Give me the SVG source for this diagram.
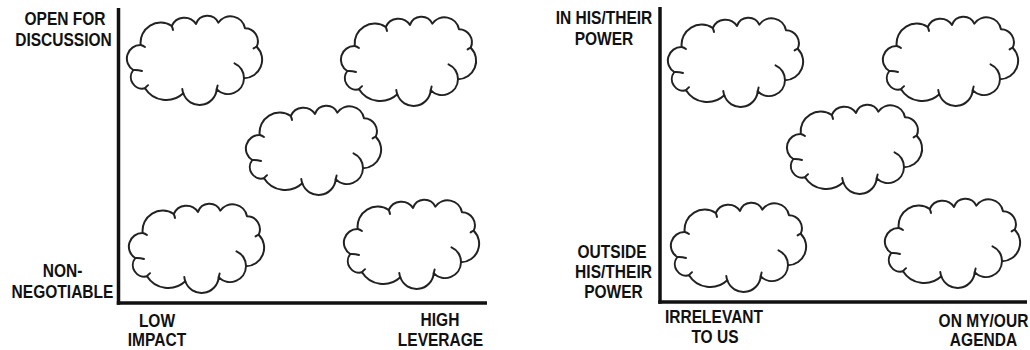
<svg xmlns="http://www.w3.org/2000/svg" xmlns:xlink="http://www.w3.org/1999/xlink" width="1030" height="350" viewBox="0 0 1030 350">
  <style>
    .axis { stroke: #111; stroke-width: 3.5; fill: none; stroke-linecap: butt; }
    .cloud-outline { fill: #fff; stroke: #222; stroke-width: 2; stroke-linejoin: round; }
    .cloud-tick { fill: none; stroke: #222; stroke-width: 2; stroke-linecap: round; }
    .lbl { font-family: "Liberation Sans", Arial, sans-serif; font-weight: bold; font-size: 18.5px; fill: #111; text-anchor: middle; }
  </style>
  <defs>
    <!-- scalloped cloud, local box about 136 x 90 -->
    <g id="cloud">
      <path class="cloud-outline" d="M14.7,30 A20,20 0 0 1 45.7,11 A13.8,13.8 0 0 1 70,9 A12,12 0 0 1 92.3,7.7 A14.8,14.8 0 0 1 119,13.3 A13,13 0 0 1 130.7,31.7 A18.5,18.5 0 0 1 118,63.3 A16,16 0 0 1 90.7,74.3 A17.2,17.2 0 0 1 57.3,78.3 A25,25 0 0 1 19,73.3 A11.5,11.5 0 0 1 7.3,55 A13.5,13.5 0 0 1 14.7,30 Z"/>
      <path class="cloud-tick" d="M108.5,48.3 A16,16 0 0 1 118,63.3"/>
      <path class="cloud-tick" d="M7.3,55 Q11.5,54.6 16,56"/>
      <path class="cloud-tick" d="M14.7,30 Q17,30.6 19,32"/>
      <path class="cloud-tick" d="M45.7,11 Q46.6,12.8 47,15"/>
      <path class="cloud-tick" d="M130.7,31.7 Q129.2,32.2 127.6,33.4"/>
      <path class="cloud-tick" d="M57.3,78.3 Q56.5,76.2 56.3,74"/>
      <path class="cloud-tick" d="M90.7,74.3 Q91.2,72.4 91.6,70.6"/>
      <path class="cloud-tick" d="M19,73.3 Q20.3,71.4 22,70.2"/>
    </g>
  </defs>

  <rect width="1030" height="350" fill="#fff"/>

  <!-- axes of both grids -->
  <g id="connectors">
    <line class="axis" x1="118.5" y1="8" x2="118.5" y2="304.8"/>
    <line class="axis" x1="116.8" y1="303" x2="487" y2="303"/>
    <line class="axis" x1="660" y1="7" x2="660" y2="303.8"/>
    <line class="axis" x1="658.3" y1="302" x2="1027" y2="302"/>
  </g>

  <!-- left grid: axis labels -->
  <g id="label-open-for-discussion">
    <text class="lbl" transform="translate(65,25) scale(0.84,1)">OPEN FOR</text>
    <text class="lbl" transform="translate(63.5,45.5) scale(0.84,1)">DISCUSSION</text>
  </g>
  <g id="label-non-negotiable">
    <text class="lbl" transform="translate(62.5,277) scale(0.84,1)">NON-</text>
    <text class="lbl" transform="translate(62.5,298) scale(0.84,1)">NEGOTIABLE</text>
  </g>
  <g id="label-low-impact">
    <text class="lbl" transform="translate(157,326.5) scale(0.84,1)">LOW</text>
    <text class="lbl" transform="translate(157,346) scale(0.84,1)">IMPACT</text>
  </g>
  <g id="label-high-leverage">
    <text class="lbl" transform="translate(440,325.5) scale(0.84,1)">HIGH</text>
    <text class="lbl" transform="translate(440.5,345.5) scale(0.84,1)">LEVERAGE</text>
  </g>

  <!-- left grid: clouds -->
  <g id="cloud-l1"><use xlink:href="#cloud" href="#cloud" x="126" y="15"/></g>
  <g id="cloud-l2"><use xlink:href="#cloud" href="#cloud" x="340" y="16"/></g>
  <g id="cloud-l3"><use xlink:href="#cloud" href="#cloud" x="245" y="105"/></g>
  <g id="cloud-l4"><use xlink:href="#cloud" href="#cloud" x="128" y="203"/></g>
  <g id="cloud-l5"><use xlink:href="#cloud" href="#cloud" x="343" y="199"/></g>

  <!-- right grid: axis labels -->
  <g id="label-in-power">
    <text class="lbl" transform="translate(604,23.5) scale(0.84,1)">IN HIS/THEIR</text>
    <text class="lbl" transform="translate(604,45) scale(0.84,1)">POWER</text>
  </g>
  <g id="label-outside-power">
    <text class="lbl" transform="translate(612,258) scale(0.84,1)">OUTSIDE</text>
    <text class="lbl" transform="translate(613.5,278) scale(0.84,1)">HIS/THEIR</text>
    <text class="lbl" transform="translate(613.5,298) scale(0.84,1)">POWER</text>
  </g>
  <g id="label-irrelevant">
    <text class="lbl" transform="translate(714,323) scale(0.84,1)">IRRELEVANT</text>
    <text class="lbl" transform="translate(715,343) scale(0.84,1)">TO US</text>
  </g>
  <g id="label-on-agenda">
    <text class="lbl" transform="translate(983.5,326.5) scale(0.84,1)">ON MY/OUR</text>
    <text class="lbl" transform="translate(983.5,346) scale(0.84,1)">AGENDA</text>
  </g>

  <!-- right grid: clouds -->
  <g id="cloud-r1"><use xlink:href="#cloud" href="#cloud" x="667" y="17"/></g>
  <g id="cloud-r2"><use xlink:href="#cloud" href="#cloud" x="882" y="16"/></g>
  <g id="cloud-r3"><use xlink:href="#cloud" href="#cloud" x="786" y="104"/></g>
  <g id="cloud-r4"><use xlink:href="#cloud" href="#cloud" x="670" y="202"/></g>
  <g id="cloud-r5"><use xlink:href="#cloud" href="#cloud" x="884" y="198"/></g>
</svg>
